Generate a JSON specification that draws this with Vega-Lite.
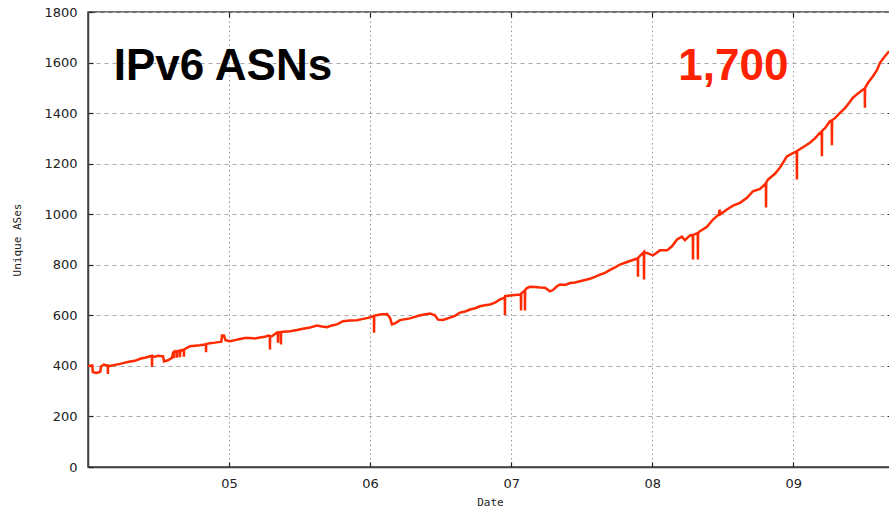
{
  "$schema": "https://vega.github.io/schema/vega-lite/v6.json",
  "width": 804,
  "height": 455,
  "autosize": {"type": "none"},
  "padding": {"left": 88, "top": 12, "right": 0, "bottom": 43},
  "background": "white",
  "config": {
    "view": {"stroke": "#404040", "strokeWidth": 1.5},
    "axis": {
      "labelFont": "DejaVu Sans",
      "labelFontSize": 13,
      "labelColor": "#222",
      "titleFont": "DejaVu Sans Mono",
      "titleFontSize": 11,
      "titleFontWeight": "normal",
      "titleColor": "#222",
      "domainColor": "#404040",
      "domainWidth": 1.5,
      "tickColor": "#222",
      "tickWidth": 1.2,
      "gridColor": "#a8a8a8",
      "gridWidth": 1
    }
  },
  "resolve": {"axis": {"x": "independent", "y": "independent"}},
  "layer": [
    {
      "data": {"values": [
        {"t":2004.000,"v":400},{"t":2004.030,"v":402},{"t":2004.034,"v":376},{"t":2004.057,"v":372},{"t":2004.078,"v":375},{"t":2004.088,"v":378},{"t":2004.092,"v":398},{"t":2004.113,"v":405},{"t":2004.135,"v":402},
        {"t":2004.140,"v":402},{"t":2004.141,"v":368},{"t":2004.142,"v":400},
        {"t":2004.156,"v":400},{"t":2004.191,"v":404},{"t":2004.227,"v":408},{"t":2004.262,"v":413},{"t":2004.298,"v":417},{"t":2004.333,"v":420},{"t":2004.369,"v":428},{"t":2004.404,"v":432},{"t":2004.440,"v":438},
        {"t":2004.453,"v":440},{"t":2004.454,"v":396},{"t":2004.455,"v":438},
        {"t":2004.475,"v":436},{"t":2004.496,"v":440},{"t":2004.532,"v":438},{"t":2004.539,"v":418},{"t":2004.567,"v":422},{"t":2004.596,"v":432},{"t":2004.603,"v":452},
        {"t":2004.609,"v":455},{"t":2004.610,"v":430},{"t":2004.611,"v":456},
        {"t":2004.630,"v":458},{"t":2004.631,"v":432},{"t":2004.632,"v":458},{"t":2004.638,"v":458},
        {"t":2004.651,"v":460},{"t":2004.652,"v":434},{"t":2004.653,"v":461},
        {"t":2004.679,"v":464},{"t":2004.680,"v":436},{"t":2004.681,"v":465},
        {"t":2004.723,"v":478},{"t":2004.759,"v":480},{"t":2004.794,"v":482},{"t":2004.829,"v":485},
        {"t":2004.836,"v":486},{"t":2004.837,"v":454},{"t":2004.838,"v":486},
        {"t":2004.865,"v":490},{"t":2004.900,"v":492},{"t":2004.936,"v":495},{"t":2004.945,"v":496},{"t":2004.950,"v":520},{"t":2004.964,"v":520},{"t":2004.975,"v":502},
        {"t":2005.007,"v":498},{"t":2005.042,"v":502},{"t":2005.077,"v":506},{"t":2005.113,"v":510},{"t":2005.148,"v":510},{"t":2005.184,"v":508},{"t":2005.219,"v":512},{"t":2005.255,"v":515},{"t":2005.276,"v":520},
        {"t":2005.289,"v":518},{"t":2005.290,"v":465},{"t":2005.291,"v":518},
        {"t":2005.304,"v":517},{"t":2005.340,"v":532},
        {"t":2005.346,"v":532},{"t":2005.347,"v":492},{"t":2005.348,"v":533},
        {"t":2005.367,"v":534},{"t":2005.368,"v":485},{"t":2005.369,"v":534},
        {"t":2005.382,"v":535},{"t":2005.432,"v":537},{"t":2005.482,"v":542},{"t":2005.524,"v":547},{"t":2005.574,"v":552},{"t":2005.623,"v":560},{"t":2005.659,"v":556},{"t":2005.694,"v":553},{"t":2005.730,"v":560},{"t":2005.765,"v":564},{"t":2005.808,"v":577},{"t":2005.857,"v":580},{"t":2005.907,"v":581},{"t":2005.942,"v":585},{"t":2005.985,"v":590},{"t":2006.013,"v":595},
        {"t":2006.027,"v":597},{"t":2006.028,"v":531},{"t":2006.029,"v":598},
        {"t":2006.070,"v":603},{"t":2006.120,"v":605},{"t":2006.141,"v":590},{"t":2006.155,"v":564},{"t":2006.176,"v":568},{"t":2006.212,"v":581},{"t":2006.283,"v":588},{"t":2006.354,"v":600},{"t":2006.425,"v":607},{"t":2006.460,"v":600},{"t":2006.481,"v":583},{"t":2006.517,"v":582},{"t":2006.566,"v":591},{"t":2006.602,"v":598},{"t":2006.637,"v":611},{"t":2006.673,"v":615},{"t":2006.708,"v":623},{"t":2006.744,"v":628},{"t":2006.779,"v":636},{"t":2006.814,"v":640},{"t":2006.850,"v":643},{"t":2006.885,"v":650},{"t":2006.921,"v":663},
        {"t":2006.955,"v":670},{"t":2006.956,"v":600},{"t":2006.957,"v":676},
        {"t":2006.992,"v":678},{"t":2007.027,"v":680},{"t":2007.063,"v":682},
        {"t":2007.069,"v":684},{"t":2007.070,"v":619},{"t":2007.071,"v":686},
        {"t":2007.091,"v":695},
        {"t":2007.097,"v":698},{"t":2007.098,"v":619},{"t":2007.099,"v":700},
        {"t":2007.112,"v":708},{"t":2007.133,"v":713},{"t":2007.169,"v":712},{"t":2007.204,"v":710},{"t":2007.240,"v":709},{"t":2007.275,"v":695},{"t":2007.296,"v":700},{"t":2007.325,"v":715},{"t":2007.346,"v":722},{"t":2007.382,"v":720},{"t":2007.417,"v":728},{"t":2007.452,"v":730},{"t":2007.488,"v":735},{"t":2007.523,"v":740},{"t":2007.559,"v":745},{"t":2007.594,"v":752},{"t":2007.630,"v":761},{"t":2007.665,"v":768},{"t":2007.701,"v":780},{"t":2007.736,"v":790},{"t":2007.772,"v":801},{"t":2007.807,"v":808},{"t":2007.842,"v":815},{"t":2007.878,"v":822},
        {"t":2007.898,"v":825},{"t":2007.899,"v":753},{"t":2007.900,"v":828},
        {"t":2007.913,"v":835},
        {"t":2007.941,"v":850},{"t":2007.942,"v":742},{"t":2007.943,"v":850},
        {"t":2007.970,"v":845},{"t":2008.005,"v":837},{"t":2008.055,"v":857},{"t":2008.105,"v":857},{"t":2008.140,"v":873},{"t":2008.176,"v":900},{"t":2008.211,"v":911},{"t":2008.232,"v":897},{"t":2008.268,"v":916},
        {"t":2008.288,"v":918},{"t":2008.289,"v":821},{"t":2008.290,"v":918},
        {"t":2008.323,"v":925},{"t":2008.324,"v":821},{"t":2008.325,"v":926},
        {"t":2008.339,"v":933},{"t":2008.388,"v":950},{"t":2008.431,"v":979},{"t":2008.473,"v":999},{"t":2008.478,"v":1018},{"t":2008.483,"v":1000},{"t":2008.530,"v":1019},{"t":2008.573,"v":1034},{"t":2008.622,"v":1045},{"t":2008.672,"v":1065},{"t":2008.714,"v":1091},{"t":2008.764,"v":1100},{"t":2008.799,"v":1118},
        {"t":2008.806,"v":1120},{"t":2008.807,"v":1027},{"t":2008.808,"v":1125},
        {"t":2008.821,"v":1137},{"t":2008.870,"v":1160},{"t":2008.906,"v":1185},{"t":2008.955,"v":1229},{"t":2008.991,"v":1240},
        {"t":2009.025,"v":1249},{"t":2009.026,"v":1137},{"t":2009.027,"v":1250},
        {"t":2009.069,"v":1265},{"t":2009.118,"v":1283},{"t":2009.154,"v":1300},{"t":2009.189,"v":1322},
        {"t":2009.202,"v":1325},{"t":2009.203,"v":1229},{"t":2009.204,"v":1330},
        {"t":2009.225,"v":1340},{"t":2009.260,"v":1368},
        {"t":2009.273,"v":1370},{"t":2009.274,"v":1273},{"t":2009.275,"v":1372},
        {"t":2009.296,"v":1380},{"t":2009.331,"v":1401},{"t":2009.367,"v":1420},{"t":2009.402,"v":1445},{"t":2009.423,"v":1461},{"t":2009.459,"v":1478},{"t":2009.494,"v":1493},
        {"t":2009.507,"v":1497},{"t":2009.508,"v":1421},{"t":2009.509,"v":1500},
        {"t":2009.530,"v":1520},{"t":2009.565,"v":1546},{"t":2009.593,"v":1570},{"t":2009.615,"v":1599},{"t":2009.643,"v":1620},{"t":2009.679,"v":1645}
      ]},
      "mark": {"type": "line", "color": "#ff2a00", "strokeWidth": 2.5, "clip": true},
      "encoding": {
        "x": {
          "field": "t", "type": "quantitative",
          "scale": {"domain": [2004, 2009.7], "nice": false, "zero": false},
          "axis": {
            "title": "Date", "values": [2005, 2006, 2007, 2008, 2009],
            "labelExpr": "'0' + (datum.value - 2000)",
            "tickSize": -5, "labelPadding": 15, "titlePadding": 6,
            "gridDash": [1.5, 3], "gridColor": "#999999"
          }
        },
        "y": {
          "field": "v", "type": "quantitative",
          "scale": {"domain": [0, 1800], "nice": false},
          "axis": {
            "title": "Unique ASes", "values": [0, 200, 400, 600, 800, 1000, 1200, 1400, 1600, 1800],
            "format": "d",
            "tickSize": -5, "labelPadding": 16, "titlePadding": 21,
            "gridDash": [4, 4]
          }
        }
      }
    },
    {
      "data": {"values": [{"label": "IPv6 ASNs", "t": 2004.182, "v": 1530}]},
      "mark": {"type": "text", "align": "left", "baseline": "alphabetic", "font": "Liberation Sans", "fontWeight": "bold", "fontSize": 44, "color": "#000000"},
      "encoding": {
        "x": {"field": "t", "type": "quantitative", "axis": {"orient": "top", "labels": false, "title": null, "domain": false, "grid": false, "values": [2005, 2006, 2007, 2008, 2009], "tickSize": -5}},
        "y": {"field": "v", "type": "quantitative", "axis": {"orient": "right", "labels": false, "title": null, "domain": false, "grid": false, "values": [200, 400, 600, 800, 1000, 1200, 1400, 1600], "tickSize": -5}},
        "text": {"field": "label"}
      }
    },
    {
      "data": {"values": [{"label": "1,700", "t": 2008.966, "v": 1530}]},
      "mark": {"type": "text", "align": "right", "baseline": "alphabetic", "font": "Liberation Sans", "fontWeight": "bold", "fontSize": 44, "color": "#ff2200"},
      "encoding": {
        "x": {"field": "t", "type": "quantitative", "axis": null},
        "y": {"field": "v", "type": "quantitative", "axis": null},
        "text": {"field": "label"}
      }
    }
  ]
}
